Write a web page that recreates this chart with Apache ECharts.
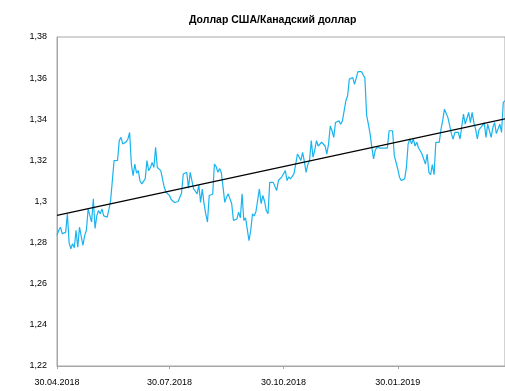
<!DOCTYPE html>
<html>
<head>
<meta charset="utf-8">
<script src="https://cdn.jsdelivr.net/npm/echarts@6/dist/echarts.min.js"></script>
<style>
  html, body { margin: 0; padding: 0; background: #fff; }
  #chart { width: 505px; height: 391px; }
</style>
</head>
<body>
<div id="chart"></div>
<script>
// USD/CAD daily closing rates, trading days 30.04.2018 – 26.04.2019
const firstDay = new Date(2018, 3, 30);
const lastDay = new Date(2019, 3, 26);

const rates = [
  1.2835, 1.2860, 1.2875, 1.2844, 1.2844, 1.2850, 1.2940, 1.2800, 1.2770, 1.2795,
  1.2775, 1.2860, 1.2778, 1.2875, 1.2875, 1.2786, 1.2835, 1.2860, 1.2964, 1.2966,
  1.2900, 1.3013, 1.2869, 1.2930, 1.2956, 1.2940, 1.2964, 1.2930, 1.2924, 1.2924,
  1.2960, 1.3005, 1.3000, 1.3199, 1.3200, 1.3200, 1.3296, 1.3312, 1.3280, 1.3280,
  1.3290, 1.3304, 1.3336, 1.3180, 1.3126, 1.3182, 1.3138, 1.3150, 1.3100, 1.3086,
  1.3090, 1.3110, 1.3199, 1.3150, 1.3165, 1.3190, 1.3165, 1.3263, 1.3165, 1.3166,
  1.3150, 1.3150, 1.3069, 1.3045, 1.3053, 1.3030, 1.3010, 1.3005, 1.2995, 1.2989,
  1.3000, 1.3000, 1.3040, 1.3134, 1.3142, 1.3142, 1.3065, 1.3142, 1.3147, 1.3060,
  1.3050, 1.3037, 1.3080, 1.2996, 1.3060, 1.2990, 1.2940, 1.2900, 1.3029, 1.3030,
  1.3035, 1.3182, 1.3170, 1.3142, 1.3160, 1.3140, 1.3070, 1.2996, 1.3021, 1.3037,
  1.3037, 1.2989, 1.2908, 1.2908, 1.2915, 1.2948, 1.2920, 1.3037, 1.2908, 1.2920,
  1.2920, 1.2810, 1.2859, 1.2940, 1.2930, 1.2950, 1.2956, 1.3061, 1.2990, 1.3029,
  1.3000, 1.2956, 1.2940, 1.3093, 1.3093, 1.3093, 1.3090, 1.3053, 1.3102, 1.3110,
  1.3120, 1.3126, 1.3150, 1.3102, 1.3120, 1.3110, 1.3104, 1.3134, 1.3182, 1.3231,
  1.3231, 1.3200, 1.3239, 1.3195, 1.3142, 1.3180, 1.3200, 1.3296, 1.3215, 1.3250,
  1.3296, 1.3270, 1.3263, 1.3288, 1.3296, 1.3270, 1.3231, 1.3280, 1.3368, 1.3344,
  1.3312, 1.3384, 1.3380, 1.3392, 1.3376, 1.3392, 1.3441, 1.3490, 1.3514, 1.3595,
  1.3595, 1.3603, 1.3570, 1.3570, 1.3632, 1.3632, 1.3632, 1.3632, 1.3600, 1.3420,
  1.3376, 1.3330, 1.3263, 1.3207, 1.3250, 1.3263, 1.3270, 1.3260, 1.3263, 1.3260,
  1.3263, 1.3260, 1.3344, 1.3340, 1.3344, 1.3223, 1.3215, 1.3158, 1.3118, 1.3102,
  1.3093, 1.3110, 1.3166, 1.3280, 1.3304, 1.3280, 1.3304, 1.3270, 1.3288, 1.3260,
  1.3247, 1.3231, 1.3240, 1.3182, 1.3231, 1.3142, 1.3130, 1.3180, 1.3130, 1.3288,
  1.3288, 1.3288, 1.3352, 1.3395, 1.3449, 1.3440, 1.3408, 1.3370, 1.3330, 1.3304,
  1.3336, 1.3336, 1.3336, 1.3304, 1.3304, 1.3425, 1.3376, 1.3370, 1.3433, 1.3384,
  1.3433, 1.3384, 1.3352, 1.3304, 1.3350, 1.3344, 1.3370, 1.3384, 1.3312, 1.3376,
  1.3344, 1.3312, 1.3360, 1.3384, 1.3330, 1.3330, 1.3376, 1.3336, 1.3482, 1.3490
];

// Linear trend line end points
const trendStart = 1.2932;
const trendEnd = 1.3402;

// Dates shown on the category axis
const tickDates = ['30.04.2018', '30.07.2018', '30.10.2018', '30.01.2019'];

const yTicks = { min: 1.22, max: 1.38, step: 0.02 };

function fmt(d) {
  const dd = String(d.getDate()).padStart(2, '0');
  const mm = String(d.getMonth() + 1).padStart(2, '0');
  return dd + '.' + mm + '.' + d.getFullYear();
}

// Weekday calendar for the period
const dates = [];
for (let d = new Date(firstDay); d <= lastDay; d.setDate(d.getDate() + 1)) {
  const wd = d.getDay();
  if (wd !== 0 && wd !== 6) dates.push(fmt(d));
}

const n = dates.length;
const trend = [[0, trendStart], [n - 1, trendEnd]];

const showTick = (idx, val) => tickDates.indexOf(val) !== -1;
const font = '"Liberation Sans", Arial, sans-serif';

const chart = echarts.init(document.getElementById('chart'), null, { renderer: 'canvas' });
chart.setOption({
  animation: false,
  backgroundColor: '#ffffff',
  title: {
    text: 'Доллар США/Канадский доллар',
    left: 184,
    top: 10,
    textStyle: { fontFamily: font, fontSize: 10.5, fontWeight: 'bold', color: '#000' }
  },
  grid: {
    left: 57, right: 0, top: 37, bottom: 25,
    show: true, borderColor: '#a6a6a6', borderWidth: 1
  },
  xAxis: {
    type: 'category',
    data: dates,
    boundaryGap: false,
    axisLine: { lineStyle: { color: '#a6a6a6', width: 1 } },
    axisTick: { show: true, interval: showTick, length: 3, lineStyle: { color: '#a6a6a6' } },
    axisLabel: {
      interval: showTick, margin: 12, color: '#000',
      fontFamily: font, fontSize: 9, hideOverlap: false
    },
    splitLine: { show: false }
  },
  yAxis: {
    type: 'value',
    min: yTicks.min, max: yTicks.max, interval: yTicks.step,
    axisLine: { show: true, lineStyle: { color: '#a6a6a6', width: 1 } },
    axisTick: { show: false },
    splitLine: { show: false },
    axisLabel: {
      margin: 10, color: '#000', fontFamily: font, fontSize: 9,
      formatter: v => String(parseFloat(v.toFixed(2))).replace('.', ',')
    }
  },
  series: [
    {
      name: 'USD/CAD',
      type: 'line',
      data: rates,
      showSymbol: false,
      lineStyle: { color: '#19b4f0', width: 1.2 },
      z: 2
    },
    {
      name: 'Тренд',
      type: 'line',
      data: trend,
      showSymbol: false,
      lineStyle: { color: '#000000', width: 1.3 },
      z: 3
    }
  ]
});
</script>
</body>
</html>
